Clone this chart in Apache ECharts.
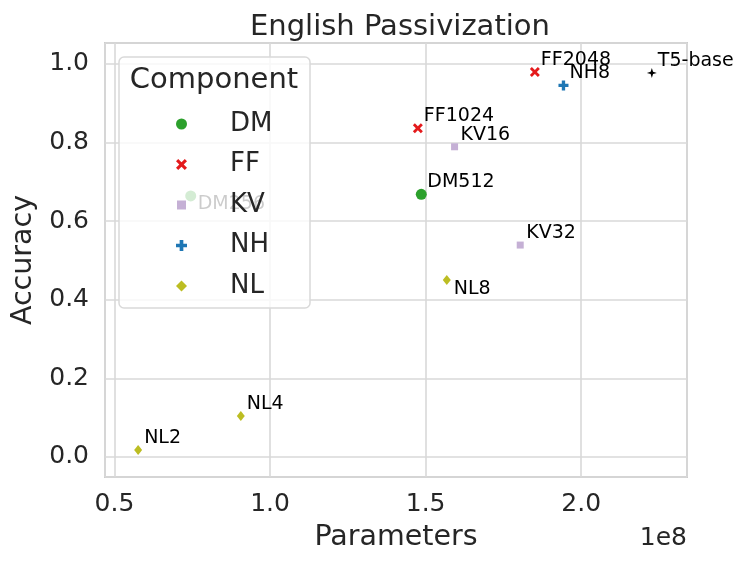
<!DOCTYPE html>
<html>
<head>
<meta charset="utf-8">
<title>English Passivization</title>
<script src="https://cdn.jsdelivr.net/npm/echarts@6/dist/echarts.min.js"></script>
<style>
  html, body { margin: 0; padding: 0; background: #fff; }
  #chart { width: 747px; height: 566px; }
</style>
</head>
<body>
<div id="chart"></div>
<script>
// values: [parameters (x1e8), accuracy, label]
var dmPoints = [[0.745, 0.664, 'DM256'], [1.486, 0.668, 'DM512']];
var ffPoints = [[1.475, 0.836, 'FF1024'], [1.851, 0.979, 'FF2048']];
var kvPoints = [[1.593, 0.789, 'KV16'], [1.804, 0.539, 'KV32']];
var nhPoints = [[1.943, 0.945, 'NH8']];
var nlPoints = [[0.576, 0.018, 'NL2'], [0.906, 0.104, 'NL4'], [1.568, 0.450, 'NL8']];
var basePoints = [[2.227, 0.977, 'T5-base']];

var components = ['DM', 'FF', 'KV', 'NH', 'NL'];
var xTicks = [0.5, 1.0, 1.5, 2.0];
var yTicks = [0.0, 0.2, 0.4, 0.6, 0.8, 1.0];

var FONT = 'DejaVu Sans';
var TEXT = '#262626';

// labels sit up-right of the point, except these which were pushed below
var labelOffset = [6, -12];
var labelOffsetOverride = { 'DM256': [7, 8], 'NL8': [7, 9] };

var xMark = 'path://M-1.8,-3 L0,-1.2 L1.8,-3 L3,-1.8 L1.2,0 L3,1.8 L1.8,3 L0,1.2 L-1.8,3 L-3,1.8 L-1.2,0 L-3,-1.8 Z';
var plusMark = 'path://M-1,-3 L1,-3 L1,-1 L3,-1 L3,1 L1,1 L1,3 L-1,3 L-1,1 L-3,1 L-3,-1 L-1,-1 Z';
var starMark = 'path://M0,-5 L1.2,-1.2 L5,0 L1.2,1.2 L0,5 L-1.2,1.2 L-5,0 L-1.2,-1.2 Z';
// legend square drawn a bit smaller than its box
var smallSquare = 'path://M-5.5,-5.5 L-5.5,-5.5 M-4.5,-4.5 L4.5,-4.5 L4.5,4.5 L-4.5,4.5 Z M5.5,5.5 L5.5,5.5';

function toItems(points) {
  return points.map(function (p) {
    var item = { value: p };
    if (labelOffsetOverride[p[2]]) {
      item.label = { offset: labelOffsetOverride[p[2]] };
    }
    return item;
  });
}

function makeSeries(name, points, symbol, size, color) {
  return {
    name: name,
    type: 'scatter',
    data: toItems(points),
    symbol: symbol,
    symbolSize: size,
    itemStyle: { color: color, opacity: 1 },
    label: {
      show: true,
      position: 'inside',
      align: 'left',
      verticalAlign: 'middle',
      offset: labelOffset,
      formatter: function (p) { return p.value[2]; },
      color: '#000',
      fontFamily: FONT,
      fontSize: 19
    },
    emphasis: { disabled: true }
  };
}

var chart = echarts.init(document.getElementById('chart'), null, { renderer: 'canvas' });

var option = {
  animation: false,
  backgroundColor: '#fff',
  title: {
    text: 'English Passivization',
    left: 245,
    top: 8,
    textStyle: { fontFamily: FONT, fontSize: 29, fontWeight: 'normal', color: TEXT }
  },
  grid: {
    left: 105, right: 60, top: 43, bottom: 89,
    show: true,
    borderColor: '#cccccc',
    borderWidth: 2,
    backgroundColor: '#fff'
  },
  xAxis: {
    type: 'value',
    min: 0.4695,
    max: 2.34,
    splitNumber: 4,
    name: 'Parameters',
    nameLocation: 'middle',
    nameGap: 46,
    nameTextStyle: { fontFamily: FONT, fontSize: 28.5, color: TEXT },
    axisLine: { show: false },
    axisTick: { show: false },
    axisLabel: {
      margin: 15,
      showMinLabel: false,
      showMaxLabel: false,
      fontFamily: FONT, fontSize: 25, color: TEXT,
      formatter: function (v) {
        return xTicks.some(function (t) { return Math.abs(t - v) < 1e-6; }) ? v.toFixed(1) : '';
      }
    },
    splitLine: { show: true, lineStyle: { color: '#d9d9d9', width: 1.6 } }
  },
  yAxis: {
    type: 'value',
    min: -0.051,
    max: 1.053,
    splitNumber: 5,
    name: 'Accuracy',
    nameLocation: 'middle',
    nameGap: 66,
    nameTextStyle: { fontFamily: FONT, fontSize: 28.5, color: TEXT },
    axisLine: { show: false },
    axisTick: { show: false },
    axisLabel: {
      margin: 16,
      showMinLabel: false,
      showMaxLabel: false,
      fontFamily: FONT, fontSize: 25, color: TEXT,
      formatter: function (v) {
        return yTicks.some(function (t) { return Math.abs(t - v) < 1e-6; }) ? Math.abs(v).toFixed(1) : '';
      }
    },
    splitLine: { show: true, lineStyle: { color: '#d9d9d9', width: 1.6 } }
  },
  legend: {
    data: [
      { name: 'DM' },
      { name: 'FF' },
      { name: 'KV', icon: smallSquare },
      { name: 'NH' },
      { name: 'NL' }
    ],
    orient: 'vertical',
    left: 176,
    top: 111,
    padding: 0,
    itemWidth: 11,
    itemHeight: 11,
    itemGap: 14.5,
    z: 110,
    selectedMode: false,
    textStyle: {
      fontFamily: FONT, fontSize: 26, color: TEXT,
      lineHeight: 26,
      padding: [0, 0, 0, 38]
    }
  },
  graphic: [
    {
      type: 'rect',
      z: 100,
      shape: { x: 119, y: 57, width: 191, height: 251, r: 5 },
      style: { fill: 'rgba(255,255,255,0.8)', stroke: '#d9d9d9', lineWidth: 1.5 }
    },
    {
      type: 'text',
      z: 105,
      x: 214, y: 80,
      style: {
        text: 'Component', fill: TEXT,
        font: '29px "DejaVu Sans"',
        align: 'center', verticalAlign: 'middle'
      }
    },
    {
      type: 'text',
      z: 105,
      x: 687, y: 538,
      style: {
        text: '1e8', fill: TEXT,
        font: '25px "DejaVu Sans"',
        align: 'right', verticalAlign: 'middle'
      }
    }
  ],
  series: [
    makeSeries('DM', dmPoints, 'circle', 11, '#2ca02c'),
    makeSeries('FF', ffPoints, xMark, 10, '#e41a1c'),
    makeSeries('KV', kvPoints, 'rect', 7, '#c5b0d5'),
    makeSeries('NH', nhPoints, plusMark, 10, '#1f77b4'),
    makeSeries('NL', nlPoints, 'diamond', [8, 10], '#bcbd22'),
    makeSeries('T5-base', basePoints, starMark, 10, '#000000')
  ]
};

chart.setOption(option);
</script>
</body>
</html>
